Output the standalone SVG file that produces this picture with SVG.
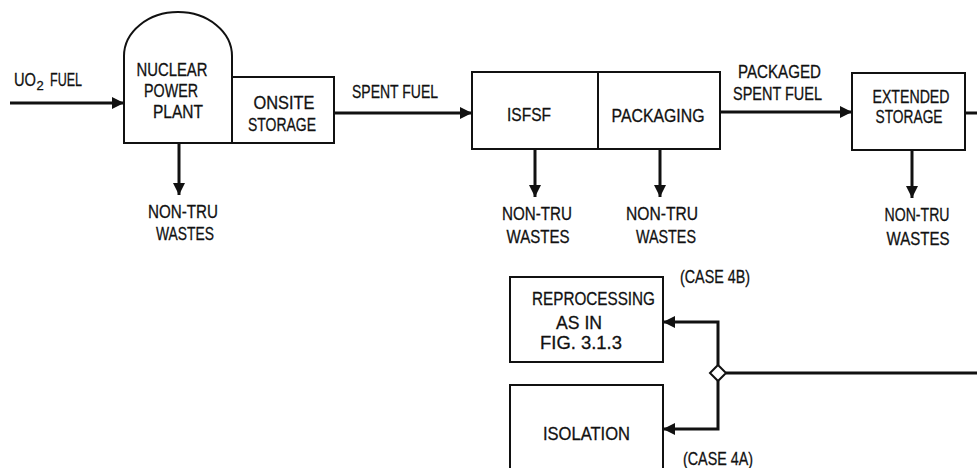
<svg xmlns="http://www.w3.org/2000/svg" width="977" height="468" viewBox="0 0 977 468">
<style>
.box{fill:none;stroke:#111;stroke-width:2}
.ln{fill:none;stroke:#111;stroke-width:3}
text{font-family:"Liberation Sans",Arial,sans-serif;font-size:18.5px;fill:#111;stroke:#111;stroke-width:0.3}
.c{text-anchor:middle}
</style>
<defs>
<marker id="ah" markerUnits="userSpaceOnUse" markerWidth="12" markerHeight="12" refX="12" refY="6" orient="auto">
<path d="M0,0 L12,6 L0,12 Z" fill="#111"/>
</marker>
</defs>
<rect width="977" height="468" fill="#fff"/>
<g id="npp">
<path class="box" d="M124,143 L124,56 A54,44 0 0 1 232,56 L232,143 Z"/>
<text x="172" y="76" class="c" textLength="71" lengthAdjust="spacingAndGlyphs">NUCLEAR</text>
<text x="171" y="97" class="c" textLength="54" lengthAdjust="spacingAndGlyphs">POWER</text>
<text x="178" y="118" class="c" textLength="50" lengthAdjust="spacingAndGlyphs">PLANT</text>
</g>
<g id="onsite">
<rect class="box" x="232" y="77" width="102" height="66"/>
<text x="284" y="109" class="c" textLength="61" lengthAdjust="spacingAndGlyphs">ONSITE</text>
<text x="282" y="131" class="c" textLength="68" lengthAdjust="spacingAndGlyphs">STORAGE</text>
</g>
<g id="isfsf">
<rect class="box" x="472" y="72" width="126" height="77"/>
<text x="529" y="121" class="c" textLength="44" lengthAdjust="spacingAndGlyphs">ISFSF</text>
</g>
<g id="packaging">
<rect class="box" x="598" y="72" width="122" height="77"/>
<text x="658" y="122" class="c" textLength="93" lengthAdjust="spacingAndGlyphs">PACKAGING</text>
</g>
<g id="extended">
<rect class="box" x="852" y="73" width="113" height="77"/>
<text x="911" y="103" class="c" textLength="77" lengthAdjust="spacingAndGlyphs">EXTENDED</text>
<text x="909" y="123" class="c" textLength="67" lengthAdjust="spacingAndGlyphs">STORAGE</text>
</g>
<g id="reprocessing">
<rect class="box" x="510" y="277" width="153" height="85"/>
<text x="532" y="305" textLength="123" lengthAdjust="spacingAndGlyphs">REPROCESSING</text>
<text x="556" y="329" textLength="46" lengthAdjust="spacingAndGlyphs">AS IN</text>
<text x="540" y="349" textLength="82" lengthAdjust="spacingAndGlyphs">FIG. 3.1.3</text>
</g>
<g id="isolation">
<rect class="box" x="510" y="385" width="153" height="95"/>
<text x="543" y="440" textLength="87" lengthAdjust="spacingAndGlyphs">ISOLATION</text>
</g>
<g id="decision">
<path class="box" d="M718,365 L726,373 L718,381 L710,373 Z" fill="#fff"/>
</g>
<g id="connectors">
<line class="ln" x1="10" y1="103" x2="124" y2="103" marker-end="url(#ah)"/>
<line class="ln" x1="334" y1="113" x2="472" y2="113" marker-end="url(#ah)"/>
<line class="ln" x1="720" y1="112" x2="852" y2="112" marker-end="url(#ah)"/>
<line class="ln" x1="965" y1="113" x2="977" y2="113"/>
<line class="ln" x1="179" y1="143" x2="179" y2="195" marker-end="url(#ah)"/>
<line class="ln" x1="535" y1="149" x2="535" y2="197" marker-end="url(#ah)"/>
<line class="ln" x1="660" y1="149" x2="660" y2="197" marker-end="url(#ah)"/>
<line class="ln" x1="912" y1="150" x2="912" y2="198" marker-end="url(#ah)"/>
<line class="ln" x1="726" y1="373" x2="977" y2="373"/>
<path class="ln" d="M718,365 L718,322 L663,322" marker-end="url(#ah)"/>
<path class="ln" d="M718,381 L718,429 L663,429" marker-end="url(#ah)"/>
</g>
<g id="labels">
<text x="14" y="86"><tspan x="14" textLength="22" lengthAdjust="spacingAndGlyphs">UO</tspan><tspan x="36.5" y="90" font-size="13">2</tspan><tspan x="50" y="86" textLength="32" lengthAdjust="spacingAndGlyphs">FUEL</tspan></text>
<text x="352" y="98" textLength="86" lengthAdjust="spacingAndGlyphs">SPENT FUEL</text>
<text x="738" y="78" textLength="83" lengthAdjust="spacingAndGlyphs">PACKAGED</text>
<text x="733" y="100" textLength="89" lengthAdjust="spacingAndGlyphs">SPENT FUEL</text>
<text x="183" y="218" class="c" textLength="70" lengthAdjust="spacingAndGlyphs">NON-TRU</text>
<text x="185" y="240" class="c" textLength="58" lengthAdjust="spacingAndGlyphs">WASTES</text>
<text x="537" y="220" class="c" textLength="70" lengthAdjust="spacingAndGlyphs">NON-TRU</text>
<text x="538" y="243" class="c" textLength="63" lengthAdjust="spacingAndGlyphs">WASTES</text>
<text x="662" y="220" class="c" textLength="72" lengthAdjust="spacingAndGlyphs">NON-TRU</text>
<text x="666" y="243" class="c" textLength="60" lengthAdjust="spacingAndGlyphs">WASTES</text>
<text x="917" y="221" class="c" textLength="65" lengthAdjust="spacingAndGlyphs">NON-TRU</text>
<text x="918" y="245" class="c" textLength="63" lengthAdjust="spacingAndGlyphs">WASTES</text>
<text x="680" y="283" textLength="70" lengthAdjust="spacingAndGlyphs">(CASE 4B)</text>
<text x="683" y="465" textLength="70" lengthAdjust="spacingAndGlyphs">(CASE 4A)</text>
</g>
</svg>
